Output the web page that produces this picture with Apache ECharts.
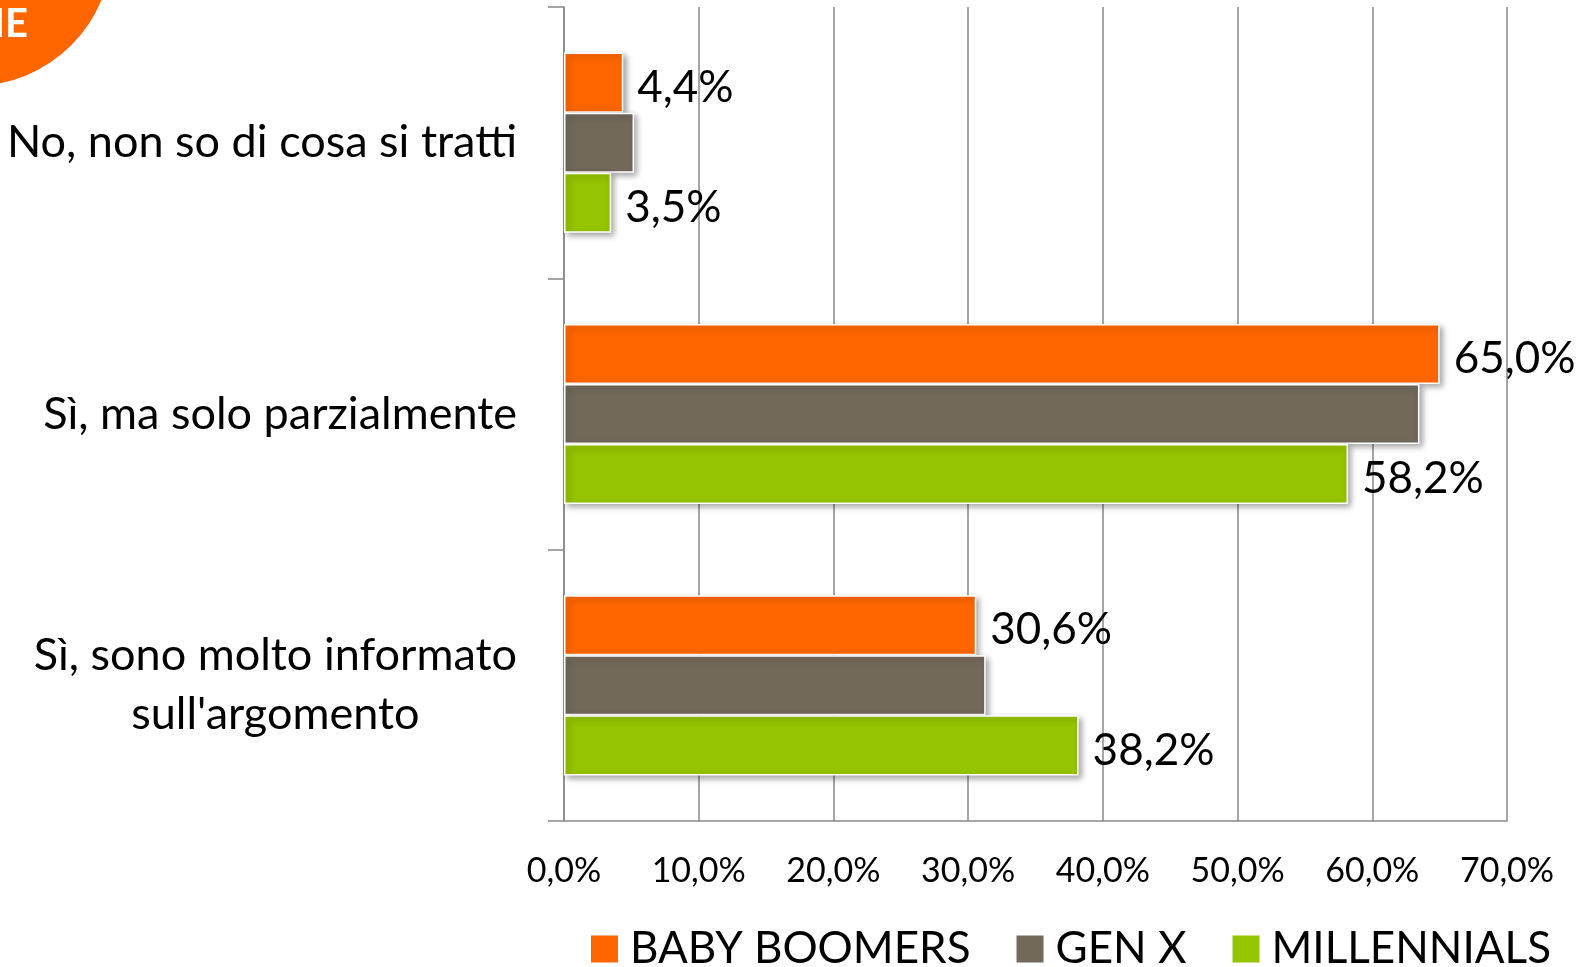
<!DOCTYPE html>
<html>
<head>
<meta charset="utf-8">
<script src="https://cdn.jsdelivr.net/npm/echarts@6/dist/echarts.min.js"></script>
<style>
  html, body { margin: 0; padding: 0; background: #fff; }
  #main { width: 1589px; height: 967px; }
</style>
</head>
<body>
<div id="main"></div>
<script>
// dati del grafico
var categories = ['No, non so di cosa si tratti', 'Sì, ma solo parzialmente', "Sì, sono molto informato\nsull'argomento"];
var seriesNames = ['BABY BOOMERS', 'GEN X', 'MILLENNIALS'];
var babyBoomers = [4.4, 65.0, 30.6];
var genX = [5.2, 63.5, 31.3];
var millennials = [3.5, 58.2, 38.2];
var xTicks = [0, 10, 20, 30, 40, 50, 60, 70];

var FONT = 'Lato';
var gridColor = '#898989';

function pct(v) {
    return v.toFixed(1).replace('.', ',') + '%';
}

var myChart = echarts.init(document.getElementById('main'));

function barSeries(name, data, color, withLabel) {
    return {
        name: name,
        type: 'bar',
        data: data,
        barGap: '0%',
        barCategoryGap: '33.6%',
        itemStyle: {
            color: color,
            borderColor: '#fff',
            borderWidth: 1.5,
            shadowBlur: 6,
            shadowOffsetX: 3,
            shadowOffsetY: 3,
            shadowColor: 'rgba(0,0,0,0.35)'
        },
        label: {
            show: withLabel,
            position: 'right',
            distance: 14,
            offset: [0, 5],
            fontFamily: FONT,
            fontSize: 44,
            color: '#000',
            formatter: function(p) { return pct(p.value); }
        }
    };
}

var option = {
    animation: false,
    grid: {
        left: 564,
        right: 82,
        top: 7,
        bottom: 146,
        containLabel: false,
        outerBoundsMode: 'none'
    },
    legend: {
        data: seriesNames,
        left: 591,
        top: 927,
        padding: 0,
        icon: 'rect',
        itemWidth: 27,
        itemHeight: 27,
        itemGap: 46,
        itemStyle: { borderWidth: 0, shadowBlur: 0, shadowOffsetX: 0, shadowOffsetY: 0 },
        textStyle: { fontFamily: FONT, fontSize: 44, color: '#000', padding: [0, 0, 0, 7] }
    },
    xAxis: {
        type: 'value',
        min: xTicks[0],
        max: xTicks[xTicks.length - 1],
        interval: 10,
        axisLine: { show: true, lineStyle: { color: gridColor, width: 1.5 } },
        axisTick: { show: false },
        splitLine: { show: true, lineStyle: { color: gridColor, width: 1.5 } },
        axisLabel: {
            margin: 33,
            fontFamily: FONT,
            fontSize: 34,
            color: '#000',
            formatter: function(v) { return pct(v); }
        }
    },
    yAxis: {
        type: 'category',
        inverse: true,
        data: categories,
        axisLine: { show: true, lineStyle: { color: gridColor, width: 1.5 } },
        axisTick: { show: true, length: 16, lineStyle: { color: gridColor, width: 1.5 } },
        axisLabel: {
            margin: 47,
            align: 'right',
            formatter: function(v) {
                return v.split('\n').map(function(l) { return '{c|' + l + '}'; }).join('\n');
            },
            rich: {
                c: { align: 'center', fontFamily: FONT, fontSize: 45, lineHeight: 59, color: '#000' }
            }
        }
    },
    series: [
        barSeries(seriesNames[0], babyBoomers, '#FF6600', true),
        barSeries(seriesNames[1], genX, '#72695A', false),
        barSeries(seriesNames[2], millennials, '#95C400', true)
    ],
    graphic: [
        { type: 'circle', shape: { cx: -27, cy: -53, r: 139 }, style: { fill: '#FF6600' }, silent: true },
        { type: 'text', x: 28, y: 4, style: { text: 'NE', fill: '#fff', font: 'bold 40px Lato', align: 'right', verticalAlign: 'top' }, silent: true }
    ]
};

myChart.setOption(option);

window.addEventListener('resize', function() {
    myChart.resize();
});
</script>
</body>
</html>
